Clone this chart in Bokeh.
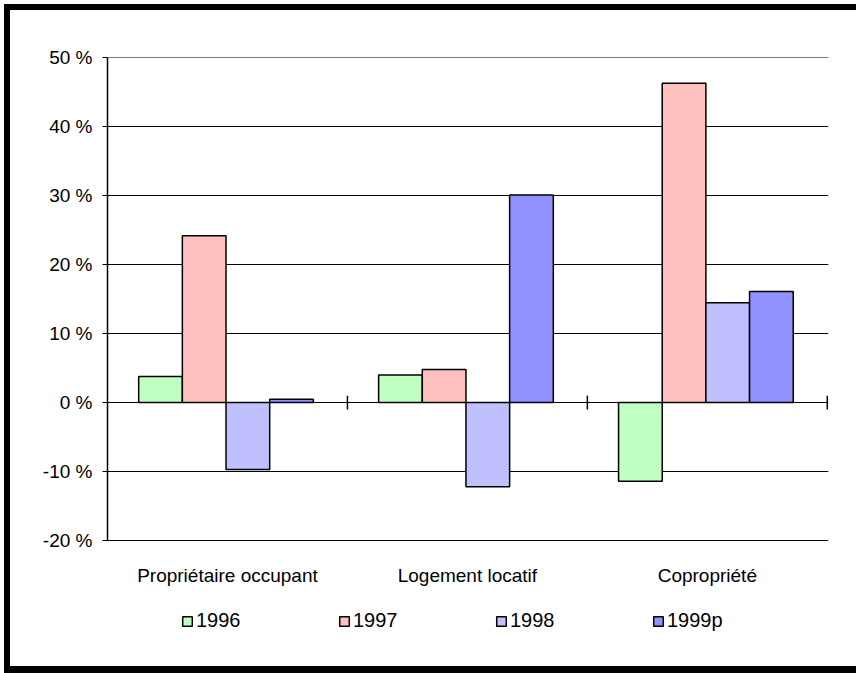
from bokeh.plotting import figure
from bokeh.models import ColumnDataSource, FixedTicker, Legend, LegendItem
from bokeh.embed import file_html
from bokeh.resources import INLINE

# Data: year-on-year change by housing segment
categories = ["Propriétaire occupant", "Logement locatif", "Copropriété"]
years = ["1996", "1997", "1998", "1999p"]
v1996 = [3.8, 4.0, -11.4]
v1997 = [24.2, 4.8, 46.3]
v1998 = [-9.7, -12.2, 14.5]
v1999p = [0.5, 30.1, 16.1]
y_ticks = [-20, -10, 0, 10, 20, 30, 40, 50]
colors = ["#C0FFC0", "#FFC0C0", "#C0C0FF", "#9191FF"]

series = [v1996, v1997, v1998, v1999p]
FONT = "Liberation Sans"
BAR_W = 0.182
GROUP_SHIFT = -0.006

# The frame runs down to the bottom of the canvas so that the category
# labels and the legend sit inside it; the value axis stops at -20 %.
p = figure(width=846, height=656, x_range=(0, 3.005), y_range=(-38.27, 50.05),
           output_backend="svg", toolbar_location=None,
           min_border_left=97, min_border_right=28,
           min_border_top=47, min_border_bottom=0)
# thick black rule on the left, top and bottom of the chart
p.styles = {
    "margin": "10px 0 0 10px",
    "box-shadow": ("-6px 0 0 0 black, 0 -6px 0 0 black, 0 7px 0 0 black, "
                   "-6px -6px 0 0 black, -6px 7px 0 0 black"),
}
p.outline_line_color = None
p.background_fill_color = "white"
p.border_fill_color = "white"

# horizontal gridlines
p.xgrid.visible = False
p.ygrid.ticker = FixedTicker(ticks=y_ticks)
p.ygrid.grid_line_color = "black"
p.ygrid.grid_line_width = 1

# y axis with percent labels
p.yaxis.ticker = FixedTicker(ticks=y_ticks)
p.yaxis.bounds = (-20, 50)
p.yaxis.major_label_overrides = {t: f"{t} %" for t in y_ticks}
p.yaxis.major_tick_out = 5
p.yaxis.major_tick_in = 0
p.yaxis.minor_tick_line_color = None
p.yaxis.axis_line_color = "black"
p.yaxis.axis_line_width = 1.5
p.yaxis.major_label_standoff = 10
p.yaxis.major_label_text_font = FONT
p.yaxis.major_label_text_font_size = "19px"
p.yaxis.major_label_text_color = "black"

# category names centred under each group, hung from the -20 % line
centers = [i + 0.5 for i in range(len(categories))]
p.xaxis.fixed_location = -20
p.xaxis.ticker = FixedTicker(ticks=centers)
p.xaxis.major_label_overrides = {c: name for c, name in zip(centers, categories)}
p.xaxis.major_tick_out = 0
p.xaxis.major_tick_in = 0
p.xaxis.minor_tick_line_color = None
p.xaxis.axis_line_color = None
p.xaxis.major_label_standoff = 24
p.xaxis.major_label_text_font = FONT
p.xaxis.major_label_text_font_size = "19px"
p.xaxis.major_label_text_color = "black"

renderers = []
for k, (vals, col) in enumerate(zip(series, colors)):
    xs = [c + GROUP_SHIFT + (k - 1.5) * BAR_W for c in centers]
    src = ColumnDataSource(dict(x=xs, top=vals))
    r = p.vbar(x="x", top="top", bottom=0, width=BAR_W, source=src,
               fill_color=col, line_color="black", line_width=1.5)
    renderers.append(r)

# category separator ticks on the zero line
bounds = [1, 2, 3]
p.segment(x0=bounds, x1=bounds, y0=[-1] * 3, y1=[1] * 3,
          line_color="black", line_width=1.5)

items = [LegendItem(label=y, renderers=[r]) for y, r in zip(years, renderers)]
legend = Legend(items=items, orientation="horizontal", location=(74, 34),
                glyph_width=12, glyph_height=12, label_width=60, spacing=82,
                label_standoff=3, padding=0, margin=0,
                border_line_color=None, background_fill_alpha=0,
                label_text_font=FONT, label_text_font_size="20px",
                label_text_color="black")
p.add_layout(legend, "center")

open("out.html", "w").write(file_html(p, INLINE))
